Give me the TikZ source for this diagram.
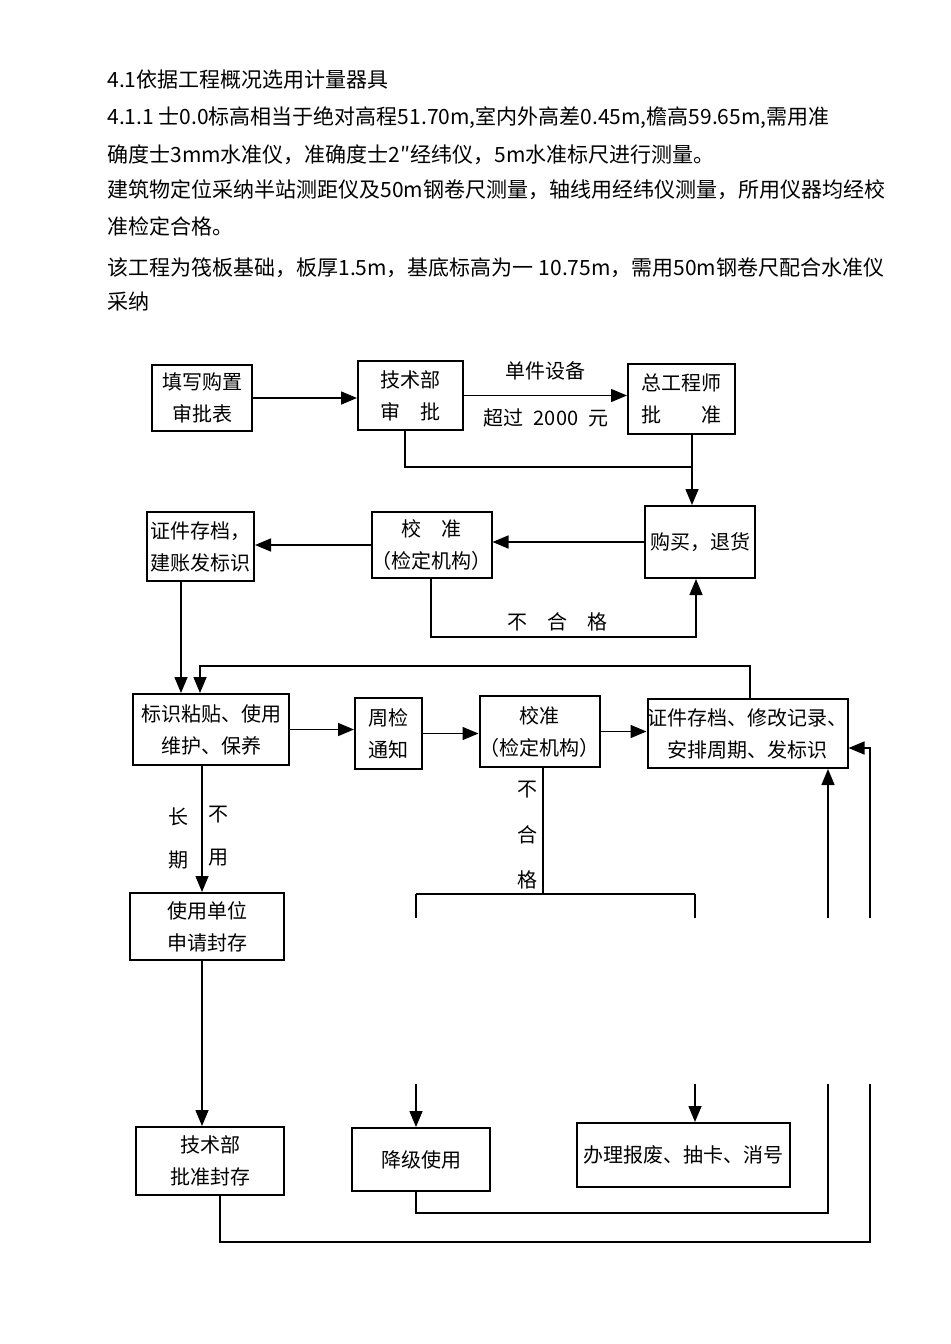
\documentclass[tikz,border=0pt]{standalone}
\usepackage{fontspec}
\newfontfamily\cjk{Noto Sans CJK SC}
\usetikzlibrary{arrows.meta}
\tikzset{
  box/.style={draw,line width=1pt,align=center,inner sep=0pt,font=\cjk\fontsize{10}{16}\selectfont},
  lbl/.style={inner sep=0pt,font=\cjk\fontsize{10}{12}\selectfont},
  txt/.style={anchor=west,inner sep=0pt,font=\cjk\fontsize{10.5}{12}\selectfont},
  flow/.style={line width=0.75pt,-{Triangle[length=8pt,width=6.5pt]}},
  line/.style={line width=0.75pt}
}
\begin{document}
\begin{tikzpicture}[x=0.5pt,y=-0.5pt]
  \useasboundingbox (0,0) rectangle (950,1344);
  \node[txt] (t1) at (107,80) {4.1依据工程概况选用计量器具};
  \node[txt] (t2) at (107,118) {4.1.1 士0.0标高相当于绝对高程51.70m,室内外高差0.45m,檐高59.65m,需用准};
  \node[txt] (t3) at (107,155) {确度士3mm水准仪，准确度士2″经纬仪，5m水准标尺进行测量。};
  \node[txt] (t4) at (107,190) {建筑物定位采纳半站测距仪及50m钢卷尺测量，轴线用经纬仪测量，所用仪器均经校};
  \node[txt] (t5) at (107,226) {准检定合格。};
  \node[txt] (t6) at (107,268) {该工程为筏板基础，板厚1.5m，基底标高为一 10.75m，需用50m钢卷尺配合水准仪};
  \node[txt] (t7) at (107,302) {采纳};

  \node[box,minimum width=50pt,minimum height=33pt] (A) at (202,398) {填写购置\\审批表};
  \node[box,minimum width=52.5pt,minimum height=34.5pt] (B) at (410.5,395.5) {技术部\\审\quad 批};
  \node[box,minimum width=53.5pt,minimum height=35pt] (C) at (681.5,399) {总工程师\\批\qquad 准};
  \node[box,minimum width=55pt,minimum height=36pt] (D) at (700,542) {购买，退货};
  \node[box,minimum width=53.5pt,minimum height=33pt] (E) at (431.5,545) {校\quad 准\\（检定机构）};
  \node[box,minimum width=53.5pt,minimum height=34.5pt] (F) at (200.5,546.5) {证件存档，\\建账发标识};
  \node[box,minimum width=78pt,minimum height=35.5pt] (G) at (211,729.5) {标识粘贴、使用\\维护、保养};
  \node[box,minimum width=33.5pt,minimum height=35.5pt] (H) at (388.5,733.5) {周检\\通知};
  \node[box,minimum width=48.5pt,minimum height=35.5pt] (I) at (539.5,731.5) {校准\\（检定机构）};
  \node[box,minimum width=95.5pt,minimum height=34.5pt] (J) at (747.5,733.5) {证件存档、修改记录、\\安排周期、发标识};
  \node[box,minimum width=77pt,minimum height=33.5pt] (K) at (207,926.5) {使用单位\\申请封存};
  \node[box,minimum width=74pt,minimum height=34pt] (L) at (210,1161) {技术部\\批准封存};
  \node[box,minimum width=69pt,minimum height=31.5pt] (M) at (421,1159.5) {降级使用};
  \node[box,minimum width=106.5pt,minimum height=32pt] (N) at (683.5,1155) {办理报废、抽卡、消号};

  \node[lbl] (l1) at (545,371) {单件设备};
  \node[lbl] (l2) at (546,418) {超过\enspace 2000\enspace 元};
  \node[lbl] (l3) at (557,622) {不\quad 合\quad 格};
  \node[lbl] (l4) at (178,817) {长};
  \node[lbl] (l5) at (178,860) {期};
  \node[lbl] (l6) at (218,815) {不};
  \node[lbl] (l7) at (218,858) {用};
  \node[lbl] (l8) at (527,790) {不};
  \node[lbl] (l9) at (527,835) {合};
  \node[lbl] (l10) at (527,880) {格};

  \coordinate (b1) at (405,467);
  \coordinate (b2) at (692,467);
  \coordinate (e1) at (431,637);
  \coordinate (e2) at (696,637);
  \coordinate (f1) at (181,600);
  \coordinate (j1) at (750,666);
  \coordinate (j2) at (200,666);
  \coordinate (g1) at (202,800);
  \coordinate (i1) at (543,894);
  \coordinate (m1) at (416,894);
  \coordinate (n1) at (695,894);
  \coordinate (m2) at (416,1213);
  \coordinate (m3) at (828,1213);
  \coordinate (k1) at (220,1242);
  \coordinate (k2) at (870,1242);
  \coordinate (k3) at (870,748);

  \begin{scope}[flow]
    \draw (A.east) -- (A.east -| B.west);
    \draw (B.east) -- (B.east -| C.west);
    \draw (C.south -| b2) -- (D.north -| b2);
    \draw (D.west) -- (D.west -| E.east);
    \draw (E.west) -- (E.west -| F.east);
    \draw (E.south -| e1) -- (e1) -- (e2) -- (D.south -| e2);
    \draw (F.south -| f1) -- (G.north -| f1);
    \draw (J.north -| j1) -- (j1) -- (j2) -- (G.north -| j2);
    \draw (G.east) -- (G.east -| H.west);
    \draw (H.west -| H.east) -- (H.east -| I.west);
    \draw (I.east) -- (I.east -| J.west);
    \draw (G.south -| g1) -- (K.north -| g1);
    \draw (K.south -| g1) -- (L.north -| g1);
    \draw (m1) -- (M.north -| m1);
    \draw (n1) -- (N.north -| n1);
    \draw (M.south -| m2) -- (m2) -- (m3) -- (J.south -| m3);
    \draw (L.south -| k1) -- (k1) -- (k2) -- (k3) -- (J.east |- k3);
  \end{scope}
  \begin{scope}[line]
    \draw (B.south -| b1) |- (b2);
    \draw (I.south -| i1) -- (i1);
    \draw (m1) -- (n1);
  \end{scope}
  \fill[white] (384,918) rectangle (885,1084);
\end{tikzpicture}
\end{document}
